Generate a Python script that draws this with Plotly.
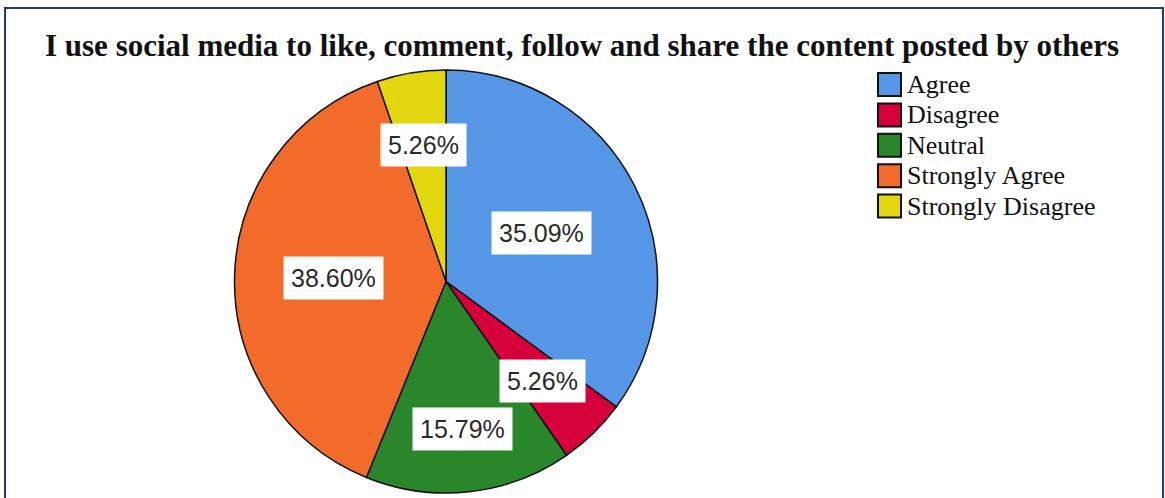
import math
import plotly.graph_objects as go

# Survey responses
categories = ["Agree", "Disagree", "Neutral", "Strongly Agree", "Strongly Disagree"]
percentages = [35.09, 5.26, 15.79, 38.60, 5.26]
colors = ["#5597E6", "#D6003A", "#2A862A", "#F26B2B", "#E2D70F"]
title_text = "I use social media to like, comment, follow and share the content posted by others"

W, H = 1165, 498

# Pie placement (pixels)
cx_px, cy_px, r_px = 446, 281.5, 211.5
dom_x = [(cx_px - r_px) / W, (cx_px + r_px) / W]
dom_y = [(H - cy_px - r_px) / H, (H - cy_px + r_px) / H]
cx, cy = sum(dom_x) / 2, sum(dom_y) / 2

# How far out (fraction of radius) each percentage box sits
label_radius = [0.505, 0.656, 0.70, 0.533, 0.656]

fig = go.Figure(go.Pie(
    labels=categories,
    values=percentages,
    marker=dict(colors=colors, line=dict(color="#111111", width=1.5)),
    sort=False,
    direction="clockwise",
    rotation=0,
    textinfo="none",
    hoverinfo="label+percent",
    showlegend=False,
    domain=dict(x=dom_x, y=dom_y),
))

annotations = []
total = sum(percentages)
cum = 0.0
for cat, val, rf in zip(categories, percentages, label_radius):
    mid = (cum + val / 2) / total
    cum += val
    theta = 2 * math.pi * mid
    annotations.append(dict(
        x=cx + rf * r_px * math.sin(theta) / W,
        y=cy + rf * r_px * math.cos(theta) / H,
        xref="paper", yref="paper",
        xanchor="center", yanchor="middle",
        text=f"{val:.2f}%",
        showarrow=False,
        bgcolor="white",
        borderpad=7,
        font=dict(family="Liberation Sans", size=25, color="#2a2a2a"),
    ))

# Title
annotations.append(dict(
    x=581.5 / W, y=(H - 45) / H, xref="paper", yref="paper",
    text=f"<b>{title_text}</b>", showarrow=False,
    xanchor="center", yanchor="middle",
    font=dict(family="Liberation Serif", size=31, color="#111111"),
))

# Legend built from the category list
shapes = []
leg_x0, leg_y0, leg_step, box = 878, 73, 30.4, 23
for i, (cat, col) in enumerate(zip(categories, colors)):
    top = leg_y0 + i * leg_step
    shapes.append(dict(
        type="rect", xref="paper", yref="paper",
        x0=leg_x0 / W, x1=(leg_x0 + box) / W,
        y0=(H - top - box) / H, y1=(H - top) / H,
        fillcolor=col, line=dict(color="#111111", width=2),
    ))
    annotations.append(dict(
        x=(leg_x0 + box + 4) / W, y=(H - top - box / 2) / H,
        xref="paper", yref="paper", text=cat, showarrow=False,
        xanchor="left", yanchor="middle",
        font=dict(family="Liberation Serif", size=26, color="#111111"),
    ))

# Frame around the chart
shapes.append(dict(
    type="rect", xref="paper", yref="paper",
    x0=5 / W, x1=1163 / W, y0=-0.1, y1=(H - 8) / H,
    line=dict(color="#1F3A6E", width=2), fillcolor="rgba(0,0,0,0)",
    layer="below",
))

fig.update_layout(
    width=W, height=H,
    margin=dict(l=0, r=0, t=0, b=0),
    paper_bgcolor="white",
    plot_bgcolor="white",
    annotations=annotations,
    shapes=shapes,
)

fig.write_html("out.html")
